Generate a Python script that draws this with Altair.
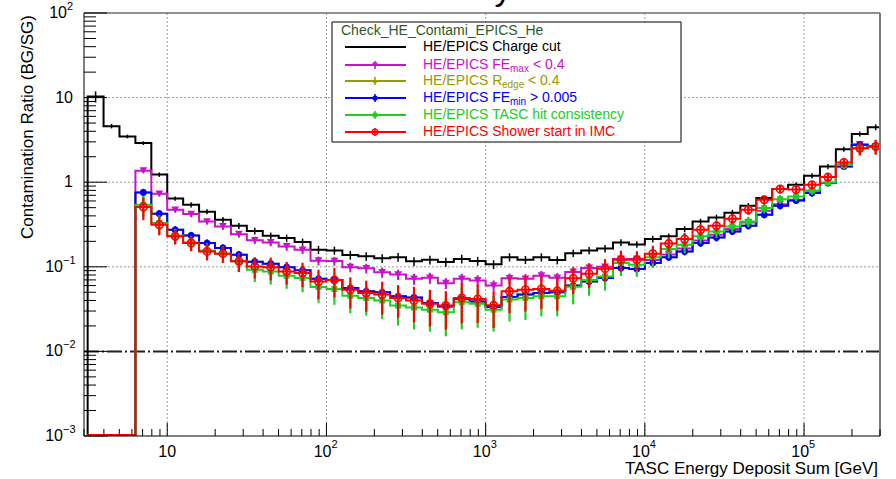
import altair as alt
import pandas as pd

# ---------------- data ----------------
bin_log_start = 0.5      # first bin edge = 10**0.5
bin_log_width = 0.1      # 10 bins per decade
n_bins = 50

series_names = [
    "HE/EPICS Charge cut",
    "HE/EPICS FE_max < 0.4",
    "HE/EPICS R_edge < 0.4",
    "HE/EPICS FE_min > 0.005",
    "HE/EPICS TASC hit consistency",
    "HE/EPICS Shower start in IMC",
]

charge_cut = [10.3, 4.6, 3.47, 2.9, 1.23, 0.64, 0.54, 0.448, 0.36, 0.305,
              0.265, 0.233, 0.219, 0.196, 0.159, 0.156, 0.138, 0.133, 0.126, 0.130,
              0.116, 0.121, 0.114, 0.124, 0.117, 0.107, 0.130, 0.121, 0.130, 0.120,
              0.145, 0.156, 0.164, 0.194, 0.184, 0.213, 0.229, 0.279, 0.343, 0.383,
              0.435, 0.526, 0.649, 0.83, 0.93, 1.19, 1.53, 2.46, 3.72, 4.47]
fe_max = [None, None, None, 1.37, 0.73, 0.472, 0.42, 0.343, 0.30, 0.243,
          0.206, 0.194, 0.174, 0.159, 0.118, 0.117, 0.099, 0.096, 0.086, 0.081,
          0.072, 0.074, 0.064, 0.072, 0.069, 0.060, 0.073, 0.072, 0.0785, 0.074,
          0.087, 0.097, 0.100, 0.124, 0.124, 0.120, 0.140, 0.165, 0.205, 0.240,
          0.280, 0.335, 0.460, 0.55, 0.62, 0.76, 0.98, 1.55, 2.80, 2.64]
r_edge = [None, None, None, 0.757, 0.424, 0.274, 0.235, 0.191, 0.167, 0.139,
          0.115, 0.109, 0.099, 0.091, 0.072, 0.070, 0.056, 0.0513, 0.050, 0.0448,
          0.0435, 0.0373, 0.034, 0.0417, 0.039, 0.0335, 0.044, 0.047, 0.049, 0.050,
          0.060, 0.067, 0.0738, 0.0966, 0.094, 0.111, 0.130, 0.152, 0.191, 0.222,
          0.262, 0.305, 0.412, 0.526, 0.608, 0.743, 0.976, 1.53, 2.76, 2.64]
fe_min = [None, None, None, 0.757, 0.424, 0.274, 0.235, 0.191, 0.167, 0.139,
          0.115, 0.109, 0.099, 0.091, 0.072, 0.070, 0.056, 0.0513, 0.050, 0.0448,
          0.0435, 0.0373, 0.034, 0.0417, 0.039, 0.0335, 0.044, 0.047, 0.049, 0.050,
          0.060, 0.067, 0.0738, 0.0966, 0.094, 0.111, 0.130, 0.152, 0.191, 0.222,
          0.262, 0.305, 0.412, 0.526, 0.608, 0.743, 0.976, 1.53, 2.76, 2.64]
tasc_hit = [None, None, None, 0.54, 0.329, 0.233, 0.194, 0.156, 0.143, 0.116,
            0.092, 0.088, 0.0785, 0.0738, 0.0577, 0.0547, 0.0456, 0.0428, 0.040, 0.0348,
            0.033, 0.0311, 0.029, 0.038, 0.0366, 0.0311, 0.041, 0.0428, 0.0448, 0.0448,
            0.058, 0.070, 0.077, 0.111, 0.106, 0.130, 0.162, 0.182, 0.229, 0.262,
            0.300, 0.343, 0.494, 0.63, 0.678, 0.798, 0.99, 1.60, 2.52, 2.64]
shower_start = [None, None, None, 0.508, 0.314, 0.229, 0.191, 0.152, 0.143, 0.116,
                0.101, 0.099, 0.088, 0.0845, 0.067, 0.070, 0.0537, 0.049, 0.0469, 0.0428,
                0.040, 0.0366, 0.0349, 0.0428, 0.0417, 0.035, 0.0513, 0.0537, 0.0547, 0.052,
                0.073, 0.083, 0.095, 0.121, 0.121, 0.143, 0.188, 0.213, 0.274, 0.305,
                0.370, 0.472, 0.62, 0.83, 0.82, 0.93, 1.15, 1.71, 2.52, 2.64]

# relative statistical errors per bin
charge_cut_err = [0.15, 0.06, 0.05, 0.05, 0.06, 0.06, 0.07, 0.07, 0.08, 0.08,
                  0.09, 0.09, 0.10, 0.10, 0.11, 0.11, 0.12, 0.12, 0.12, 0.12,
                  0.12, 0.12, 0.12, 0.12, 0.12, 0.12, 0.11, 0.11, 0.11, 0.11,
                  0.10, 0.10, 0.10, 0.09, 0.09, 0.09, 0.08, 0.08, 0.08, 0.08,
                  0.08, 0.08, 0.07, 0.07, 0.07, 0.07, 0.07, 0.07, 0.07, 0.08]
fe_max_err = [None, None, None, 0.06, 0.07, 0.07, 0.08, 0.08, 0.09, 0.09,
              0.10, 0.10, 0.11, 0.11, 0.12, 0.12, 0.13, 0.13, 0.14, 0.14,
              0.15, 0.15, 0.15, 0.15, 0.15, 0.15, 0.14, 0.14, 0.14, 0.14,
              0.13, 0.13, 0.12, 0.12, 0.12, 0.11, 0.11, 0.11, 0.10, 0.10,
              0.10, 0.10, 0.09, 0.09, 0.09, 0.09, 0.09, 0.09, 0.10, 0.12]
r_edge_err = [None, None, None, 0.10, 0.10, 0.10, 0.10, 0.10, 0.10, 0.10,
              0.11, 0.11, 0.11, 0.12, 0.12, 0.12, 0.13, 0.13, 0.13, 0.13,
              0.14, 0.14, 0.14, 0.14, 0.14, 0.14, 0.13, 0.13, 0.13, 0.13,
              0.12, 0.12, 0.12, 0.11, 0.11, 0.11, 0.10, 0.10, 0.10, 0.10,
              0.09, 0.09, 0.09, 0.09, 0.09, 0.09, 0.09, 0.09, 0.10, 0.12]
fe_min_err = [None, None, None, 0.10, 0.10, 0.10, 0.10, 0.10, 0.10, 0.10,
              0.11, 0.11, 0.11, 0.12, 0.12, 0.12, 0.13, 0.13, 0.13, 0.13,
              0.14, 0.14, 0.14, 0.14, 0.14, 0.14, 0.13, 0.13, 0.13, 0.13,
              0.12, 0.12, 0.12, 0.11, 0.11, 0.11, 0.10, 0.10, 0.10, 0.10,
              0.09, 0.09, 0.09, 0.09, 0.09, 0.09, 0.09, 0.09, 0.10, 0.12]
tasc_hit_err = [None, None, None, 0.28, 0.24, 0.20, 0.20, 0.22, 0.22, 0.25,
                0.28, 0.30, 0.30, 0.32, 0.35, 0.35, 0.38, 0.38, 0.40, 0.42,
                0.45, 0.45, 0.48, 0.52, 0.48, 0.45, 0.45, 0.45, 0.42, 0.42,
                0.38, 0.35, 0.32, 0.30, 0.28, 0.25, 0.22, 0.20, 0.18, 0.16,
                0.15, 0.14, 0.13, 0.12, 0.12, 0.11, 0.11, 0.12, 0.15, 0.18]
shower_start_err = [None, None, None, 0.30, 0.25, 0.20, 0.20, 0.22, 0.22, 0.25,
                    0.28, 0.30, 0.30, 0.32, 0.38, 0.38, 0.40, 0.40, 0.42, 0.42,
                    0.45, 0.46, 0.48, 0.50, 0.48, 0.46, 0.45, 0.45, 0.42, 0.42,
                    0.35, 0.32, 0.30, 0.28, 0.26, 0.24, 0.20, 0.18, 0.16, 0.15,
                    0.14, 0.13, 0.12, 0.12, 0.12, 0.11, 0.12, 0.13, 0.18, 0.20]

series_colors = ["#000000", "#cc11cc", "#999900", "#0000ff", "#22cc22", "#ff0000"]

y_tick_values = [100, 10, 1, 0.1, 0.01, 0.001]
y_tick_bases = ["10", "10", "1", "10", "10", "10"]
y_tick_exps = ["2", "", "", "\u22121", "\u22122", "\u22123"]
x_tick_values = [10, 100, 1000, 10000, 100000]
x_tick_bases = ["10", "10", "10", "10", "10"]
x_tick_exps = ["", "2", "3", "4", "5"]
reference_level = [0.01]

legend_header = "Check_HE_Contami_EPICS_He"
x_title = "TASC Energy Deposit Sum [GeV]"
y_title = "Contamination Ratio (BG/SG)"

# ---------------- geometry / styling ----------------
FONT = "Liberation Sans"
W, H = 796, 423
Y_MIN, Y_MAX = 1e-3, 1e2
Y_FLOOR = 1.025e-3          # empty bins are drawn on the frame bottom
X_MIN, X_MAX = 3, 3e5
xs = alt.Scale(type="log", domain=[X_MIN, X_MAX], nice=False)
ys = alt.Scale(type="log", domain=[Y_MIN, Y_MAX], nice=False)

edges = [10 ** (bin_log_start + bin_log_width * k) for k in range(n_bins + 1)]
centers = [10 ** (bin_log_start + bin_log_width * (k + 0.5)) for k in range(n_bins)]
dummy = pd.DataFrame({"d": [0]})


def text_at(text, x, y, size=14, color="black", align="left", baseline="middle", angle=None):
    kw = dict(text=text, fontSize=size, color=color, align=align, baseline=baseline, font=FONT)
    if angle is not None:
        kw["angle"] = angle
    return alt.Chart(dummy).mark_text(**kw).encode(x=alt.value(x), y=alt.value(y))


def hline_px(y, x1, x2, color, width=1, dash=None):
    kw = dict(color=color, strokeWidth=width)
    if dash:
        kw["strokeDash"] = dash
    return alt.Chart(dummy).mark_rule(**kw).encode(x=alt.value(x1), x2=alt.value(x2), y=alt.value(y))


def vline_px(x, y1, y2, color, width=1):
    return alt.Chart(dummy).mark_rule(color=color, strokeWidth=width).encode(
        x=alt.value(x), y=alt.value(y1), y2=alt.value(y2))


layers = []

# grid
layers.append(alt.Chart(pd.DataFrame({"v": x_tick_values})).mark_rule(
    color="#9a9a9a", strokeWidth=1, strokeDash=[2, 2]).encode(
    x=alt.X("v:Q", scale=xs, axis=None), y=alt.value(0), y2=alt.value(H)))
layers.append(alt.Chart(pd.DataFrame({"v": [10, 1, 0.1]})).mark_rule(
    color="#9a9a9a", strokeWidth=1, strokeDash=[2, 2]).encode(
    y=alt.Y("v:Q", scale=ys, axis=None), x=alt.value(0), x2=alt.value(W)))

# reference dashed line
layers.append(alt.Chart(pd.DataFrame({"v": reference_level})).mark_rule(
    color="#222222", strokeWidth=2, strokeDash=[15, 3, 2, 3]).encode(
    y=alt.Y("v:Q", scale=ys, axis=None), x=alt.value(0), x2=alt.value(W)))


def hist_layers(vals, errs, color, shape, filled, msize, ewidth=2):
    rows = [{"i": 0, "x": edges[0], "y": Y_FLOOR}]
    for k, v in enumerate(vals):
        rows.append({"i": k + 1, "x": edges[k], "y": v if v else Y_FLOOR})
    rows.append({"i": n_bins + 1, "x": edges[n_bins], "y": vals[-1] if vals[-1] else Y_FLOOR})
    out = [alt.Chart(pd.DataFrame(rows)).mark_line(
        interpolate="step-after", color=color, strokeWidth=2, clip=True).encode(
        x=alt.X("x:Q", scale=xs, axis=None), y=alt.Y("y:Q", scale=ys, axis=None), order="i:Q")]
    pts = []
    for k, (v, e) in enumerate(zip(vals, errs)):
        if v:
            pts.append({"x": centers[k], "y": v, "lo": max(v * (1 - e), Y_MIN), "hi": v * (1 + e)})
    df = pd.DataFrame(pts)
    out.append(alt.Chart(df).mark_rule(color=color, strokeWidth=ewidth, clip=True).encode(
        x=alt.X("x:Q", scale=xs, axis=None), y=alt.Y("lo:Q", scale=ys, axis=None), y2="hi:Q"))
    if shape:
        kw = dict(shape=shape, size=msize, clip=True, opacity=1)
        if filled:
            kw.update(filled=True, color=color)
        else:
            kw.update(filled=False, color=color, strokeWidth=1.6)
        out.append(alt.Chart(df).mark_point(**kw).encode(
            x=alt.X("x:Q", scale=xs, axis=None), y=alt.Y("y:Q", scale=ys, axis=None)))
    return out


all_vals = [charge_cut, fe_max, r_edge, fe_min, tasc_hit, shower_start]
all_errs = [charge_cut_err, fe_max_err, r_edge_err, fe_min_err, tasc_hit_err, shower_start_err]
shapes = [None, "triangle-down", "triangle-up", "circle", "square", "circle"]
filled_flags = [True, True, True, True, True, False]
sizes = [0, 60, 30, 45, 36, 55]
ewidths = [1.5, 2, 2, 2, 2.2, 2.2]
for vals, errs, col, shp, fil, sz, ew in zip(all_vals, all_errs, series_colors, shapes, filled_flags, sizes, ewidths):
    layers += hist_layers(vals, errs, col, shp, fil, sz, ew)

# frame & axes
layers.append(hline_px(0, 0, W, "#6e6e6e", 1.5))
layers.append(vline_px(W, 0, H, "#7a7a7a", 2))
layers.append(vline_px(0, 0, H, "#000000", 1))
layers.append(hline_px(H, 0, W, "#000000", 1))

# ticks
y_minor = [m * 10.0 ** k for k in range(-3, 2) for m in range(2, 10)]
x_minor = [m * 10.0 ** k for k in range(0, 6) for m in range(2, 10) if X_MIN <= m * 10.0 ** k <= X_MAX]
layers.append(alt.Chart(pd.DataFrame({"v": y_tick_values})).mark_rule(color="black").encode(
    y=alt.Y("v:Q", scale=ys, axis=None), x=alt.value(0), x2=alt.value(23)))
layers.append(alt.Chart(pd.DataFrame({"v": y_minor})).mark_rule(color="black").encode(
    y=alt.Y("v:Q", scale=ys, axis=None), x=alt.value(0), x2=alt.value(12)))
layers.append(alt.Chart(pd.DataFrame({"v": x_tick_values})).mark_rule(color="black").encode(
    x=alt.X("v:Q", scale=xs, axis=None), y=alt.value(H), y2=alt.value(H - 13)))
layers.append(alt.Chart(pd.DataFrame({"v": x_minor})).mark_rule(color="black").encode(
    x=alt.X("v:Q", scale=xs, axis=None), y=alt.value(H), y2=alt.value(H - 7)))


def kind_of(e):
    if not e:
        return "none"
    return "neg" if e.startswith("\u2212") else "pos"


ylab = pd.DataFrame({"v": y_tick_values, "base": y_tick_bases, "exp": y_tick_exps,
                     "kind": [kind_of(e) for e in y_tick_exps]})
xlab = pd.DataFrame({"v": x_tick_values, "base": x_tick_bases, "exp": x_tick_exps,
                     "kind": [kind_of(e) for e in x_tick_exps]})

for kind, xb in [("none", -11), ("pos", -17), ("neg", -21)]:
    layers.append(alt.Chart(ylab).transform_filter(f"datum.kind == '{kind}'").mark_text(
        align="right", baseline="middle", fontSize=16, font=FONT, color="black").encode(
        y=alt.Y("v:Q", scale=ys, axis=None), x=alt.value(xb), text="base:N"))
    if kind != "none":
        layers.append(alt.Chart(ylab).transform_filter(f"datum.kind == '{kind}'").mark_text(
            align="left", baseline="middle", fontSize=11, font=FONT, color="black", dy=-6).encode(
            y=alt.Y("v:Q", scale=ys, axis=None), x=alt.value(xb), text="exp:N"))

XL_Y = H + 16
layers.append(alt.Chart(xlab).transform_filter("datum.kind == 'none'").mark_text(
    align="center", baseline="middle", fontSize=16, font=FONT, color="black").encode(
    x=alt.X("v:Q", scale=xs, axis=None), y=alt.value(XL_Y), text="base:N"))
layers.append(alt.Chart(xlab).transform_filter("datum.kind != 'none'").mark_text(
    align="right", baseline="middle", fontSize=16, font=FONT, color="black", dx=5).encode(
    x=alt.X("v:Q", scale=xs, axis=None), y=alt.value(XL_Y), text="base:N"))
layers.append(alt.Chart(xlab).transform_filter("datum.kind != 'none'").mark_text(
    align="left", baseline="middle", fontSize=11, font=FONT, color="black", dx=5).encode(
    x=alt.X("v:Q", scale=xs, axis=None), y=alt.value(XL_Y - 7), text="exp:N"))

# axis titles
layers.append(text_at(x_title, W - 2, H + 33, size=17, align="right"))
layers.append(text_at(y_title, -56, 2, size=17, align="right", angle=270))
# clipped main title glyph at the very top
layers.append(text_at("y", 419, -13, size=34, align="center", baseline="alphabetic"))

# legend
LX0, LX1, LY0, LY1 = 248, 597, 9, 129
layers.append(alt.Chart(dummy).mark_rect(fill="white", stroke="black", strokeWidth=1).encode(
    x=alt.value(LX0), x2=alt.value(LX1), y=alt.value(LY0), y2=alt.value(LY1)))
layers.append(text_at(legend_header, 257, 18, size=14, color="#2d5a2d"))
row_y = [34, 52, 68, 85, 102, 119]
for i, (col, shp, fil) in enumerate(zip(series_colors, shapes, filled_flags)):
    yy = row_y[i]
    layers.append(hline_px(yy, 261, 322, col, 2))
    if shp:
        layers.append(vline_px(291, yy - 4, yy + 4, col, 1.5))
        kw = dict(shape=shp, size=sizes[i] * 0.6, color=col, filled=fil, opacity=1)
        if not fil:
            kw["strokeWidth"] = 1.3
        layers.append(alt.Chart(dummy).mark_point(**kw).encode(x=alt.value(291), y=alt.value(yy)))

TX = 339
SUB_DY = 4
layers.append(text_at("HE/EPICS Charge cut", TX, row_y[0], color=series_colors[0]))
layers.append(text_at("HE/EPICS FE", TX, row_y[1], color=series_colors[1]))
layers.append(text_at("max", TX + 87, row_y[1] + SUB_DY, size=10, color=series_colors[1]))
layers.append(text_at("< 0.4", TX + 110, row_y[1], color=series_colors[1]))
layers.append(text_at("HE/EPICS R", TX, row_y[2], color=series_colors[2]))
layers.append(text_at("edge", TX + 79, row_y[2] + SUB_DY, size=10, color=series_colors[2]))
layers.append(text_at("< 0.4", TX + 105, row_y[2], color=series_colors[2]))
layers.append(text_at("HE/EPICS FE", TX, row_y[3], color=series_colors[3]))
layers.append(text_at("min", TX + 87, row_y[3] + SUB_DY, size=10, color=series_colors[3]))
layers.append(text_at("> 0.005", TX + 107, row_y[3], color=series_colors[3]))
layers.append(text_at("HE/EPICS TASC hit consistency", TX, row_y[4], color=series_colors[4]))
layers.append(text_at("HE/EPICS Shower start in IMC", TX, row_y[5], color=series_colors[5]))

chart = alt.layer(*layers).properties(
    width=W, height=H,
    padding={"left": 84, "top": 13, "right": 16, "bottom": 43},
    autosize=alt.AutoSizeParams(type="none"),
    background="white",
).configure_view(stroke=None)

chart.save("out.html", embed_options={"renderer": "svg", "actions": False})
